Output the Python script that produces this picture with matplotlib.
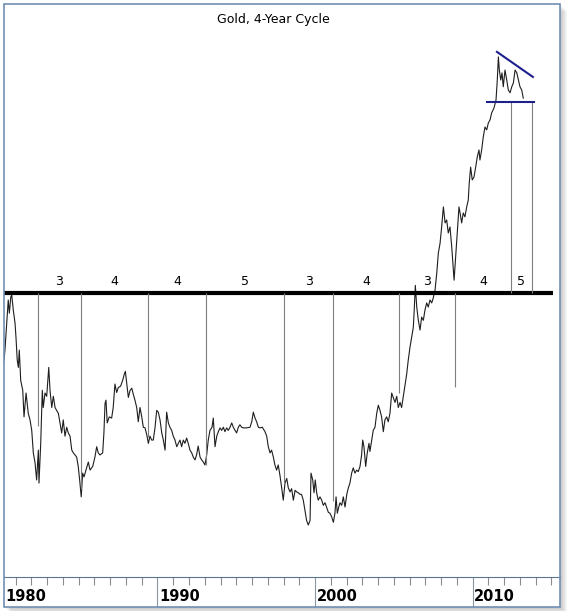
import matplotlib
matplotlib.use('Agg')
import matplotlib.pyplot as plt
from matplotlib.patches import Rectangle

# weekly-ish gold closes (decimal year, USD)
years = [
    1980.26, 1980.32, 1980.43, 1980.53, 1980.60, 1980.69, 1980.75, 1980.85, 1980.96, 1981.02,
    1981.10, 1981.17, 1981.23, 1981.32, 1981.45, 1981.53, 1981.66, 1981.80, 1981.91, 1982.02,
    1982.12, 1982.23, 1982.33, 1982.44, 1982.48, 1982.59, 1982.69, 1982.75, 1982.86, 1982.97,
    1983.10, 1983.18, 1983.29, 1983.39, 1983.50, 1983.60, 1983.71, 1983.81, 1983.92, 1984.02,
    1984.13, 1984.24, 1984.34, 1984.45, 1984.56, 1984.66, 1984.77, 1984.87, 1984.97, 1985.08,
    1985.16, 1985.25, 1985.34, 1985.46, 1985.61, 1985.72, 1985.89, 1986.03, 1986.14, 1986.24,
    1986.35, 1986.52, 1986.60, 1986.67, 1986.73, 1986.81, 1986.94, 1987.09, 1987.19, 1987.30,
    1987.41, 1987.51, 1987.66, 1987.79, 1987.89, 1987.96, 1988.05, 1988.15, 1988.26, 1988.37,
    1988.47, 1988.57, 1988.68, 1988.78, 1988.89, 1989.00, 1989.10, 1989.21, 1989.32, 1989.42,
    1989.52, 1989.63, 1989.73, 1989.84, 1989.95, 1990.05, 1990.16, 1990.27, 1990.37, 1990.48,
    1990.58, 1990.69, 1990.79, 1990.90, 1991.00, 1991.11, 1991.22, 1991.32, 1991.43, 1991.53,
    1991.64, 1991.74, 1991.85, 1991.95, 1992.06, 1992.17, 1992.27, 1992.38, 1992.48, 1992.58,
    1992.70, 1992.80, 1992.91, 1993.01, 1993.12, 1993.22, 1993.33, 1993.46, 1993.54, 1993.65,
    1993.76, 1993.86, 1993.97, 1994.07, 1994.18, 1994.28, 1994.39, 1994.49, 1994.60, 1994.71,
    1994.81, 1994.92, 1995.02, 1995.13, 1995.23, 1995.34, 1995.44, 1995.66, 1995.87, 1995.98,
    1996.08, 1996.19, 1996.29, 1996.40, 1996.50, 1996.65, 1996.82, 1996.93, 1997.03, 1997.14,
    1997.24, 1997.35, 1997.45, 1997.56, 1997.66, 1997.77, 1997.88, 1997.98, 1998.09, 1998.20,
    1998.30, 1998.41, 1998.51, 1998.62, 1998.73, 1998.83, 1998.93, 1999.04, 1999.14, 1999.25,
    1999.36, 1999.46, 1999.57, 1999.68, 1999.74, 1999.85, 1999.93, 2000.01, 2000.10, 2000.20,
    2000.31, 2000.42, 2000.52, 2000.63, 2000.74, 2000.84, 2000.94, 2001.05, 2001.16, 2001.26,
    2001.33, 2001.41, 2001.50, 2001.58, 2001.69, 2001.79, 2001.90, 2002.01, 2002.11, 2002.21,
    2002.32, 2002.42, 2002.53, 2002.64, 2002.74, 2002.85, 2002.95, 2003.02, 2003.10, 2003.21,
    2003.31, 2003.42, 2003.48, 2003.59, 2003.69, 2003.80, 2003.91, 2004.01, 2004.12, 2004.22,
    2004.33, 2004.43, 2004.54, 2004.64, 2004.75, 2004.86, 2004.96, 2005.07, 2005.18, 2005.28,
    2005.39, 2005.49, 2005.60, 2005.71, 2005.81, 2005.91, 2006.02, 2006.13, 2006.23, 2006.29,
    2006.36, 2006.45, 2006.55, 2006.66, 2006.76, 2006.87, 2006.97, 2007.08, 2007.18, 2007.29,
    2007.40, 2007.50, 2007.61, 2007.72, 2007.82, 2007.93, 2008.03, 2008.14, 2008.25, 2008.35,
    2008.45, 2008.56, 2008.67, 2008.73, 2008.82, 2008.92, 2009.02, 2009.13, 2009.20, 2009.30,
    2009.40, 2009.51, 2009.62, 2009.72, 2009.78, 2009.87, 2009.97, 2010.08, 2010.19, 2010.29,
    2010.40, 2010.46, 2010.57, 2010.67, 2010.78, 2010.89, 2010.99, 2011.10, 2011.20, 2011.35,
    2011.48, 2011.56, 2011.63, 2011.69, 2011.78, 2011.86, 2011.94, 2012.05, 2012.16, 2012.26,
    2012.37, 2012.48, 2012.58, 2012.69, 2012.80, 2012.90, 2013.00, 2013.11, 2013.21,
]
prices = [
    511, 533, 596, 656, 621, 664, 670, 629, 596, 562,
    511, 496, 533, 470, 451, 404, 446, 410, 399, 382,
    348, 334, 311, 352, 307, 362, 451, 420, 446, 440,
    496, 451, 420, 440, 420, 415, 410, 394, 378, 399,
    373, 387, 378, 373, 352, 348, 345, 342, 329, 307,
    290, 320, 315, 324, 335, 324, 329, 342, 357, 348,
    345, 348, 378, 427, 433, 394, 404, 402, 420, 463,
    447, 456, 459, 470, 482, 488, 463, 438, 451, 455,
    443, 433, 420, 396, 420, 404, 387, 386, 375, 362,
    373, 367, 367, 386, 415, 412, 399, 378, 367, 352,
    412, 394, 387, 382, 373, 367, 357, 362, 367, 357,
    367, 362, 370, 362, 352, 348, 342, 338, 345, 358,
    342, 338, 335, 331, 345, 367, 382, 387, 402, 357,
    373, 380, 386, 382, 387, 380, 386, 382, 387, 394,
    387, 382, 378, 387, 391, 387, 386, 386, 387, 396,
    412, 402, 396, 387, 386, 387, 380, 373, 357, 348,
    352, 342, 331, 324, 331, 317, 301, 286, 307, 313,
    301, 296, 300, 286, 298, 296, 295, 293, 293, 286,
    274, 263, 258, 263, 320, 311, 295, 311, 295, 286,
    290, 286, 280, 283, 277, 272, 271, 267, 261, 271,
    290, 271, 278, 283, 280, 290, 278, 293, 301, 307,
    320, 327, 320, 324, 322, 329, 345, 367, 357, 329,
    348, 362, 350, 367, 382, 387, 410, 424, 415, 404,
    380, 399, 404, 396, 410, 446, 438, 429, 440, 420,
    429, 420, 440, 461, 482, 511, 539, 562, 585, 629,
    697, 637, 603, 579, 611, 603, 629, 648, 637, 656,
    648, 662, 683, 733, 797, 830, 888, 965, 903, 914,
    866, 888, 817, 774, 712, 784, 866, 965, 941, 903,
    941, 926, 965, 993, 1065, 1138, 1079, 1092, 1138, 1187,
    1222, 1172, 1222, 1289, 1344, 1328, 1366, 1384, 1424, 1454,
    1503, 1633, 1797, 1702, 1633, 1682, 1588, 1702, 1633, 1567,
    1549, 1588, 1613, 1702, 1682, 1633, 1588, 1567, 1515,
]

# 4-year cycle lows and how far each marker line reaches
cycle_lows = [1982.40, 1985.14, 1989.42, 1993.06, 1998.03, 2001.15, 2005.30, 2008.88]
cycle_bottoms = [389, 300, 372, 331, 307, 285, 446, 458]
projected = [2012.43, 2013.74]
cycle_labels = ['3', '4', '4', '5', '3', '4', '3', '4', '5']

base_level = 675
base_end = 2015.09
support_level = 1491
support_x = [2010.91, 2013.89]
resist_x = [2011.54, 2013.82]
resist_y = [1835, 1654]

decade_labels = [1980, 1990, 2000, 2010]

W, H = 570, 611
narrow = ['Liberation Sans Narrow', 'DejaVu Sans']

fig = plt.figure(figsize=(W / 100, H / 100), dpi=100)
fig.patch.set_facecolor('white')

# frame with soft drop shadow
for k in range(1, 8):
    fig.patches.append(Rectangle(((4 + k) / W, 1 - (607 + k) / H), 556 / W, 603 / H,
                                 transform=fig.transFigure, facecolor='#808080',
                                 edgecolor='none', alpha=0.07, zorder=-3))
fig.patches.append(Rectangle((4 / W, 1 - 607 / H), 556 / W, 603 / H, transform=fig.transFigure,
                             facecolor='white', edgecolor='none', zorder=-2))
fig.patches.append(Rectangle((4 / W, 1 - 607 / H), 556 / W, 603 / H, transform=fig.transFigure,
                             fill=False, edgecolor='#6f8fb3', lw=1.2, zorder=5))

ax = fig.add_axes([4 / W, 34 / H, 556 / W, 573 / H])
ax.patch.set_visible(False)
ax.set_yscale('log')
ax.set_xlim(1980.26, 2015.54)
ax.set_ylim(208, 2238)

ax.plot(years, prices, color='#1e1e1e', lw=0.8)
ax.hlines(base_level, 1980.26, base_end, color='black', lw=3)

ax.vlines(cycle_lows, cycle_bottoms, base_level, color='#7f7f7f', lw=0.8)
ax.vlines(projected, base_level, support_level, color='#7f7f7f', lw=0.8)

ax.plot(support_x, [support_level, support_level], color='#1c1f8c', lw=1.5)
ax.plot(resist_x, resist_y, color='#1c1f8c', lw=1.5)

edges = cycle_lows + projected
for i, lab in enumerate(cycle_labels):
    mid = (edges[i] + edges[i + 1]) / 2
    ax.annotate(lab, xy=(mid, base_level), xytext=(0, 8), textcoords='offset points',
                ha='center', va='center', fontsize=9, family=narrow)

for s in ['left', 'top', 'right']:
    ax.spines[s].set_visible(False)
ax.spines['bottom'].set_color('#5f7491')
ax.tick_params(axis='y', which='both', left=False, labelleft=False)

ax.set_xticks([1990, 2000, 2010])
ax.set_xticks([y for y in range(1981, 2016) if y % 10 != 0], minor=True)
ax.tick_params(axis='x', which='major', length=21.6, width=0.8, color='#8c96a3', labelbottom=False)
ax.tick_params(axis='x', which='minor', length=5.8, width=0.8, color='#8c8c8c')

for yr in decade_labels:
    ax.annotate(str(yr), xy=(max(yr, 1980.26), 0), xycoords=('data', 'axes fraction'),
                xytext=(1, -14), textcoords='offset points', ha='left', va='center',
                fontsize=10.5, fontweight='bold', family=narrow, annotation_clip=False)

fig.text(273 / W, 1 - 20 / H, 'Gold, 4-Year Cycle', ha='center', va='center',
         fontsize=9, family=narrow)

plt.savefig('out.png', dpi=100)
